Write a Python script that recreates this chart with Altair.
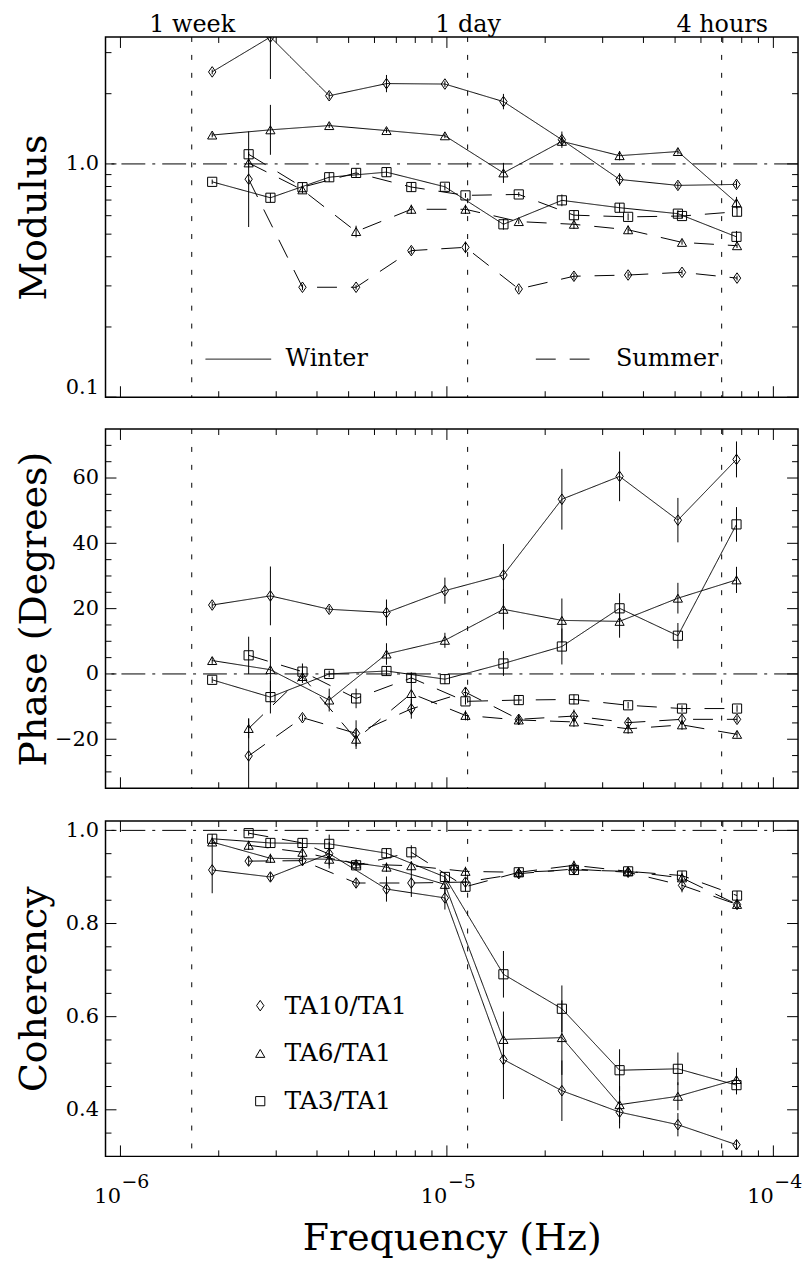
import altair as alt
import pandas as pd

FONT = "DejaVu Serif"

SEASONS = ["Winter", "Summer"]
SERIES = ["TA10/TA1", "TA6/TA1", "TA3/TA1"]

# frequencies (Hz) of the spectral estimates
FREQ_WINTER = [1.91e-6, 2.88e-6, 4.36e-6, 6.53e-6, 9.86e-6, 1.49e-5, 2.25e-5, 3.38e-5, 5.10e-5, 7.71e-5]
FREQ_SUMMER = [2.47e-6, 3.61e-6, 5.27e-6, 7.78e-6, 1.14e-5, 1.66e-5, 2.45e-5, 3.59e-5, 5.25e-5, 7.74e-5]

# reference periods (1 week, 1 day, 4 hours)
PERIOD_FREQ = [1.6534e-6, 1.1574e-5, 6.9444e-5]
PERIOD_LABELS = ["1 week", "1 day", "4 hours"]

# axis ticks
X_MAJOR = [1e-6, 1e-5, 1e-4]
X_MINOR = [2e-6, 3e-6, 4e-6, 5e-6, 6e-6, 7e-6, 8e-6, 9e-6,
           2e-5, 3e-5, 4e-5, 5e-5, 6e-5, 7e-5, 8e-5, 9e-5]
X_BASE = "10"
X_EXPONENTS = ["\u22126", "\u22125", "\u22124"]

MOD_MAJOR = [0.1, 1.0]
MOD_MINOR = [0.2, 0.3, 0.4, 0.5, 0.6, 0.7, 0.8, 0.9, 2.0, 3.0]
PH_MAJOR = [-20, 0, 20, 40, 60]
PH_MINOR = [-30, -25, -15, -10, -5, 5, 10, 15, 25, 30, 35, 45, 50, 55, 65, 70]
CO_MAJOR = [0.4, 0.6, 0.8, 1.0]
CO_MINOR = [0.35, 0.45, 0.5, 0.55, 0.65, 0.7, 0.75, 0.85, 0.9, 0.95]

# ---------------- Modulus (values, error half-width in decades)
MOD_W_TA10 = [2.48, 3.50, 1.96, 2.21, 2.20, 1.85, 1.27, 0.858, 0.809, 0.817]
MOD_W_TA6 = [1.33, 1.40, 1.46, 1.39, 1.32, 0.915, 1.25, 1.085, 1.13, 0.682]
MOD_W_TA3 = [0.838, 0.716, 0.877, 0.922, 0.798, 0.551, 0.698, 0.649, 0.612, 0.487]
MOD_S_TA10 = [0.860, 0.296, 0.296, 0.425, 0.439, 0.291, 0.330, 0.334, 0.343, 0.324]
MOD_S_TA6 = [1.01, 0.774, 0.513, 0.639, 0.639, 0.566, 0.551, 0.522, 0.461, 0.446]
MOD_S_TA3 = [1.10, 0.795, 0.915, 0.796, 0.733, 0.740, 0.603, 0.593, 0.598, 0.624]
MOD_ERR_W_TA10 = [0.01, 0.18, 0.015, 0.037, 0.012, 0.033, 0.035, 0.027, 0.015, 0.015]
MOD_ERR_W_TA6 = [0.01, 0.107, 0.01, 0.01, 0.01, 0.043, 0.02, 0.02, 0.012, 0.025]
MOD_ERR_W_TA3 = [0.01, 0.02, 0.02, 0.02, 0.015, 0.023, 0.025, 0.02, 0.015, 0.025]
MOD_ERR_S_TA10 = [0.205, 0.012, 0.01, 0.015, 0.025, 0.012, 0.015, 0.012, 0.01, 0.01]
MOD_ERR_S_TA6 = [0.02, 0.015, 0.025, 0.02, 0.02, 0.01, 0.02, 0.018, 0.01, 0.01]
MOD_ERR_S_TA3 = [0.01, 0.02, 0.02, 0.02, 0.01, 0.01, 0.02, 0.015, 0.01, 0.02]

# ---------------- Phase (degrees, error half-width in degrees)
PH_W_TA10 = [21.1, 23.9, 19.8, 18.8, 25.5, 30.3, 53.5, 60.5, 47.1, 65.7]
PH_W_TA6 = [4.1, 1.3, -8.0, 6.1, 10.3, 19.8, 16.4, 16.1, 23.2, 28.8]
PH_W_TA3 = [-1.8, -7.1, 0.0, 0.9, -1.6, 3.2, 8.4, 20.1, 11.7, 45.8]
PH_S_TA10 = [-25.1, -13.4, -18.2, -10.7, -5.6, -13.9, -12.9, -14.9, -13.9, -13.9]
PH_S_TA6 = [-16.7, -0.8, -20.0, -6.0, -12.7, -14.1, -14.7, -16.8, -15.6, -18.5]
PH_S_TA3 = [5.7, 0.7, -7.5, -1.2, -8.4, -8.0, -7.8, -9.6, -10.6, -10.6]
PH_ERR_W_TA10 = [1.0, 9.0, 1.0, 4.0, 4.0, 9.5, 9.3, 7.6, 6.8, 5.5]
PH_ERR_W_TA6 = [1.0, 10.0, 3.5, 3.3, 2.3, 6.2, 6.7, 5.0, 4.7, 4.0]
PH_ERR_W_TA3 = [1.0, 5.0, 1.0, 1.5, 1.5, 3.8, 5.5, 4.6, 3.9, 5.3]
PH_ERR_S_TA10 = [11.5, 1.0, 4.0, 3.0, 1.5, 1.5, 2.0, 1.5, 1.5, 1.0]
PH_ERR_S_TA6 = [3.0, 2.0, 3.0, 6.5, 1.5, 1.5, 1.5, 1.5, 1.5, 1.0]
PH_ERR_S_TA3 = [5.7, 2.5, 3.0, 1.5, 1.0, 1.5, 1.5, 1.0, 1.0, 1.0]

# ---------------- Coherency (values, error half-width)
CO_W_TA10 = [0.915, 0.900, 0.950, 0.874, 0.855, 0.508, 0.441, 0.395, 0.368, 0.325]
CO_W_TA6 = [0.975, 0.940, 0.938, 0.921, 0.884, 0.551, 0.555, 0.411, 0.429, 0.465]
CO_W_TA3 = [0.982, 0.973, 0.971, 0.951, 0.900, 0.691, 0.617, 0.485, 0.488, 0.453]
CO_S_TA10 = [0.934, 0.935, 0.887, 0.887, 0.889, 0.907, 0.917, 0.910, 0.882, 0.841]
CO_S_TA6 = [0.968, 0.953, 0.928, 0.924, 0.912, 0.910, 0.925, 0.912, 0.898, 0.841]
CO_S_TA3 = [0.994, 0.973, 0.925, 0.953, 0.879, 0.910, 0.915, 0.912, 0.903, 0.860]
CO_ERR_W_TA10 = [0.05, 0.01, 0.025, 0.027, 0.025, 0.085, 0.065, 0.035, 0.025, 0.01]
CO_ERR_W_TA6 = [0.01, 0.01, 0.02, 0.01, 0.02, 0.06, 0.08, 0.04, 0.03, 0.025]
CO_ERR_W_TA3 = [0.01, 0.01, 0.02, 0.01, 0.01, 0.05, 0.05, 0.045, 0.035, 0.02]
CO_ERR_S_TA10 = [0.01, 0.01, 0.01, 0.03, 0.01, 0.01, 0.01, 0.01, 0.015, 0.01]
CO_ERR_S_TA6 = [0.01, 0.02, 0.01, 0.01, 0.01, 0.01, 0.01, 0.01, 0.01, 0.01]
CO_ERR_S_TA3 = [0.005, 0.01, 0.01, 0.015, 0.01, 0.01, 0.01, 0.01, 0.01, 0.01]

DIAMOND = "M0,-1.15L0.8,0L0,1.15L-0.8,0Z"

W = 696
H_MOD, H_PH, H_CO = 362, 361, 337
TMAJ, TMIN = 11, 6

X_DOMAIN = [9.0e-7, 1.19e-4]
MOD_DOMAIN = [0.1, 3.5]
PH_DOMAIN = [-35, 75]
CO_DOMAIN = [0.30, 1.02]

xscale = alt.Scale(type="log", domain=X_DOMAIN, nice=False)
shape_scale = alt.Scale(domain=SERIES, range=[DIAMOND, "triangle-up", "square"])
dash_scale = alt.Scale(domain=SEASONS, range=[[1, 0], [20, 14]])


def build_frame(vals, errs, domain, log=False):
    rows = []
    for (season, series), v_list in vals.items():
        freqs = FREQ_WINTER if season == "Winter" else FREQ_SUMMER
        for f, v, e in zip(freqs, v_list, errs[(season, series)]):
            if log:
                lo, hi = v / (10 ** e), v * (10 ** e)
            else:
                lo, hi = v - e, v + e
            # error bars are cut at the frame, as in the original figure
            lo, hi = max(lo, domain[0]), min(hi, domain[1])
            rows.append(dict(season=season, series=series, freq=f, value=v, lo=lo, hi=hi))
    return pd.DataFrame(rows)


df_mod = build_frame(
    {("Winter", "TA10/TA1"): MOD_W_TA10, ("Winter", "TA6/TA1"): MOD_W_TA6, ("Winter", "TA3/TA1"): MOD_W_TA3,
     ("Summer", "TA10/TA1"): MOD_S_TA10, ("Summer", "TA6/TA1"): MOD_S_TA6, ("Summer", "TA3/TA1"): MOD_S_TA3},
    {("Winter", "TA10/TA1"): MOD_ERR_W_TA10, ("Winter", "TA6/TA1"): MOD_ERR_W_TA6, ("Winter", "TA3/TA1"): MOD_ERR_W_TA3,
     ("Summer", "TA10/TA1"): MOD_ERR_S_TA10, ("Summer", "TA6/TA1"): MOD_ERR_S_TA6, ("Summer", "TA3/TA1"): MOD_ERR_S_TA3},
    MOD_DOMAIN, log=True)
df_ph = build_frame(
    {("Winter", "TA10/TA1"): PH_W_TA10, ("Winter", "TA6/TA1"): PH_W_TA6, ("Winter", "TA3/TA1"): PH_W_TA3,
     ("Summer", "TA10/TA1"): PH_S_TA10, ("Summer", "TA6/TA1"): PH_S_TA6, ("Summer", "TA3/TA1"): PH_S_TA3},
    {("Winter", "TA10/TA1"): PH_ERR_W_TA10, ("Winter", "TA6/TA1"): PH_ERR_W_TA6, ("Winter", "TA3/TA1"): PH_ERR_W_TA3,
     ("Summer", "TA10/TA1"): PH_ERR_S_TA10, ("Summer", "TA6/TA1"): PH_ERR_S_TA6, ("Summer", "TA3/TA1"): PH_ERR_S_TA3},
    PH_DOMAIN)
df_co = build_frame(
    {("Winter", "TA10/TA1"): CO_W_TA10, ("Winter", "TA6/TA1"): CO_W_TA6, ("Winter", "TA3/TA1"): CO_W_TA3,
     ("Summer", "TA10/TA1"): CO_S_TA10, ("Summer", "TA6/TA1"): CO_S_TA6, ("Summer", "TA3/TA1"): CO_S_TA3},
    {("Winter", "TA10/TA1"): CO_ERR_W_TA10, ("Winter", "TA6/TA1"): CO_ERR_W_TA6, ("Winter", "TA3/TA1"): CO_ERR_W_TA3,
     ("Summer", "TA10/TA1"): CO_ERR_S_TA10, ("Summer", "TA6/TA1"): CO_ERR_S_TA6, ("Summer", "TA3/TA1"): CO_ERR_S_TA3},
    CO_DOMAIN)


def y_axis(values, fmt, title):
    return alt.Axis(orient="left", values=values, format=fmt, labelFontSize=21, labelPadding=7,
                    ticks=False, tickSize=0, domain=False, grid=False, labelFlush=True,
                    labelOverlap=False, title=title, titleFontSize=38, titleBaseline="alphabetic",
                    titlePadding=15, minExtent=45, maxExtent=45, titleFontWeight="normal")


def make_panel(df, yscale, yax, H, ymaj, ymin, href, xaxis, dash_legend, shape_legend, extra_x_text=False):
    # every layer carries the same axis definition so that the merged axes survive
    def X(field):
        return alt.X(field, type="quantitative", scale=xscale, axis=xaxis)

    def Y(field):
        return alt.Y(field, type="quantitative", scale=yscale, axis=yax)

    rule = dict(color="black", strokeWidth=1)
    layers = []
    layers.append(alt.Chart(pd.DataFrame({"f": PERIOD_FREQ})).mark_rule(
        strokeDash=[5, 13], **rule).encode(x=X("f")))
    layers.append(alt.Chart(pd.DataFrame({"r": [href]})).mark_rule(
        strokeDash=[24, 7, 3, 7], **rule).encode(y=Y("r")))
    # inward ticks on all four sides
    for vals, L in [(X_MAJOR, TMAJ), (X_MINOR, TMIN)]:
        d = pd.DataFrame({"v": vals})
        layers.append(alt.Chart(d).mark_rule(**rule).encode(x=X("v"), y=alt.value(0), y2=alt.value(L)))
        layers.append(alt.Chart(d).mark_rule(**rule).encode(x=X("v"), y=alt.value(H - L), y2=alt.value(H)))
    for vals, L in [(ymaj, TMAJ), (ymin, TMIN)]:
        d = pd.DataFrame({"v": vals})
        layers.append(alt.Chart(d).mark_rule(**rule).encode(y=Y("v"), x=alt.value(0), x2=alt.value(L)))
        layers.append(alt.Chart(d).mark_rule(**rule).encode(y=Y("v"), x=alt.value(W - L), x2=alt.value(W)))
    # error bars
    layers.append(alt.Chart(df).mark_rule(clip=True, **rule).encode(x=X("freq"), y=Y("lo"), y2="hi"))
    # connecting lines
    layers.append(alt.Chart(df).mark_line(color="black", strokeWidth=1, clip=True).encode(
        x=X("freq"), y=Y("value"),
        strokeDash=alt.StrokeDash("season:N", scale=dash_scale, legend=dash_legend),
        detail="series:N", order="freq:Q"))
    # markers
    layers.append(alt.Chart(df).mark_point(filled=False, size=85, color="black", strokeWidth=1,
                                           opacity=1, clip=True).encode(
        x=X("freq"), y=Y("value"),
        shape=alt.Shape("series:N", scale=shape_scale, legend=shape_legend)))
    if extra_x_text:
        layers.append(alt.Chart(pd.DataFrame({"v": X_MAJOR, "e": X_EXPONENTS})).mark_text(
            align="left", baseline="alphabetic", dx=1, fontSize=19, font=FONT, color="black").encode(
            x=X("v"), y=alt.value(H + 32), text="e:N"))
    return alt.layer(*layers).properties(width=W, height=H)


# top axis (periods)
expr = "'" + PERIOD_LABELS[-1] + "'"
for f, lab in zip(reversed(PERIOD_FREQ[:-1]), reversed(PERIOD_LABELS[:-1])):
    expr = f"datum.value < {f * 1.5} ? '{lab}' : ({expr})"
x_top = alt.Axis(orient="top", values=PERIOD_FREQ, labelExpr=expr, ticks=False, tickSize=0,
                 domain=False, grid=False, labelFontSize=24, labelPadding=6,
                 labelBaseline="alphabetic", labelFlush=False, labelOverlap=False, title=None)
x_bottom = alt.Axis(orient="bottom", values=X_MAJOR, labelExpr="'" + X_BASE + "'", labelAlign="right",
                    labelBaseline="alphabetic", labelPadding=46, labelFontSize=21, ticks=False,
                    tickSize=0, domain=False, grid=False, labelFlush=False, labelOverlap=False,
                    title="Frequency (Hz)", titleFontSize=38, titleBaseline="alphabetic",
                    titlePadding=49, minExtent=45, maxExtent=45, titleFontWeight="normal")

dash_legend = alt.Legend(orient="none", legendX=100, legendY=290, direction="horizontal", columns=2,
                         symbolType="stroke", symbolSize=4356, symbolStrokeWidth=1,
                         symbolStrokeColor="black", labelFontSize=24, labelFont=FONT,
                         labelColor="black", title=None, labelOffset=14, columnPadding=166,
                         padding=0)
shape_legend = alt.Legend(orient="none", legendX=143, legendY=173, direction="vertical",
                          symbolSize=85, symbolStrokeColor="black", symbolStrokeWidth=1,
                          labelFontSize=25, labelFont=FONT, labelColor="black", title=None,
                          labelOffset=12, rowPadding=22, padding=0)

ymod = alt.Scale(type="log", domain=MOD_DOMAIN, nice=False)
yph = alt.Scale(domain=PH_DOMAIN, nice=False, zero=False)
yco = alt.Scale(domain=CO_DOMAIN, nice=False, zero=False)

p1 = make_panel(df_mod, ymod, y_axis(MOD_MAJOR, ".1f", "Modulus"), H_MOD, MOD_MAJOR, MOD_MINOR,
                1.0, x_top, dash_legend, None)
p2 = make_panel(df_ph, yph, y_axis(PH_MAJOR, "d", "Phase (Degrees)"), H_PH, PH_MAJOR, PH_MINOR,
                0.0, None, None, None)
p3 = make_panel(df_co, yco, y_axis(CO_MAJOR, ".1f", "Coherency"), H_CO, CO_MAJOR, CO_MINOR,
                1.0, x_bottom, None, shape_legend, extra_x_text=True)

chart = alt.vconcat(p1, p2, p3, spacing=28).resolve_scale(
    shape="independent", strokeDash="independent").properties(
    padding={"left": 7, "top": 0, "right": 0, "bottom": 0}, background="white").configure_view(
    stroke="black", strokeWidth=1.5).configure_axis(
    labelFont=FONT, titleFont=FONT, labelColor="black", titleColor="black").configure_legend(
    labelFont=FONT).configure_text(font=FONT)

chart.save("out.html", embed_options={"renderer": "svg", "actions": False})
